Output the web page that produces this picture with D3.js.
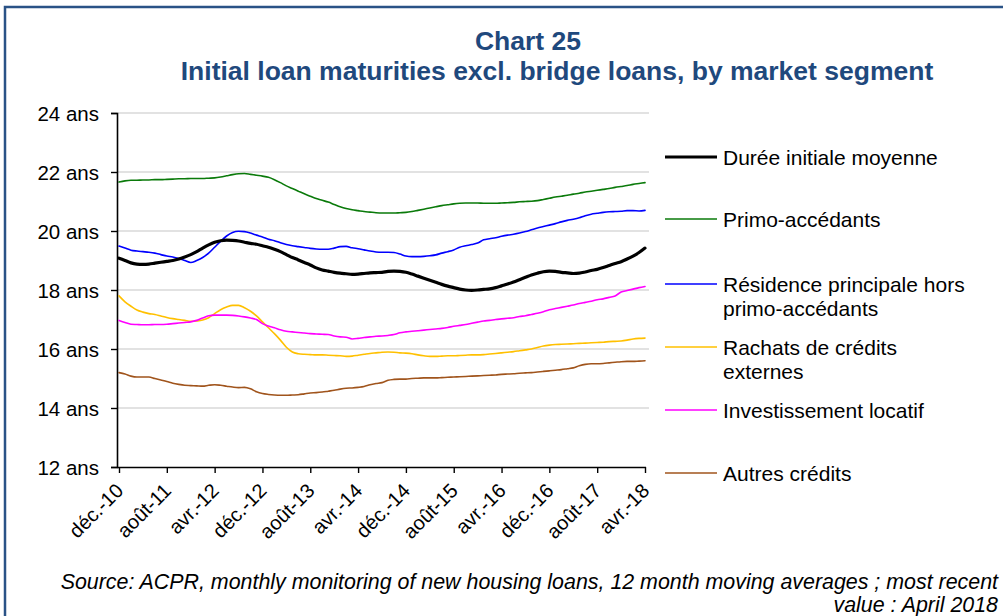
<!DOCTYPE html>
<html>
<head>
<meta charset="utf-8">
<script src="https://cdn.jsdelivr.net/npm/d3@7"></script>
<style>
  html, body { margin: 0; padding: 0; background: #fff; }
  svg { display: block; font-family: Arial, "Liberation Sans", sans-serif; }
</style>
</head>
<body>
<svg id="chart" width="1003" height="616"></svg>
<script>
// Monthly periods, Dec 2010 to Apr 2018 (12-month moving averages, in years)
const monthNames = ["janv.", "févr.", "mars", "avr.", "mai", "juin", "juil.", "août", "sept.", "oct.", "nov.", "déc."];
const startYear = 2010, startMonth = 11, nPeriods = 89;
const periods = d3.range(nPeriods).map(i => {
  const m = (startMonth + i) % 12;
  const y = startYear + Math.floor((startMonth + i) / 12);
  return monthNames[m] + "-" + String(y).slice(2);
});

const tickLabels = ["déc.-10", "août-11", "avr.-12", "déc.-12", "août-13", "avr.-14",
                    "déc.-14", "août-15", "avr.-16", "déc.-16", "août-17", "avr.-18"];
const yTicks = [12, 14, 16, 18, 20, 22, 24];

const dureeMoyenne = [
  19.08, 19.00, 18.92, 18.88, 18.87, 18.88, 18.91, 18.94, 18.97, 19.00, 19.05, 19.12,
  19.20, 19.30, 19.42, 19.53, 19.62, 19.67, 19.69, 19.68, 19.66, 19.62, 19.58, 19.55,
  19.50, 19.45, 19.38, 19.30, 19.20, 19.10, 19.02, 18.93, 18.85, 18.75, 18.68, 18.64,
  18.60, 18.57, 18.55, 18.53, 18.54, 18.56, 18.58, 18.59, 18.60, 18.63, 18.64, 18.63,
  18.60, 18.54, 18.47, 18.40, 18.33, 18.26, 18.19, 18.13, 18.08, 18.03, 18.00, 17.99,
  18.00, 18.02, 18.04, 18.08, 18.14, 18.20, 18.27, 18.35, 18.43, 18.51, 18.57, 18.62,
  18.64, 18.63, 18.60, 18.58, 18.56, 18.57, 18.61, 18.66, 18.70, 18.76, 18.83, 18.90,
  18.96, 19.05, 19.15, 19.27, 19.42
];
const primoAccedants = [
  21.66, 21.70, 21.72, 21.72, 21.73, 21.73, 21.74, 21.74, 21.75, 21.76, 21.77, 21.77,
  21.78, 21.78, 21.78, 21.79, 21.80, 21.83, 21.87, 21.91, 21.94, 21.95, 21.92, 21.89,
  21.86, 21.82, 21.74, 21.64, 21.53, 21.44, 21.35, 21.26, 21.18, 21.10, 21.04, 20.98,
  20.90, 20.82, 20.76, 20.72, 20.69, 20.66, 20.64, 20.62, 20.61, 20.61, 20.61, 20.62,
  20.63, 20.66, 20.70, 20.74, 20.78, 20.82, 20.86, 20.89, 20.92, 20.94, 20.95, 20.95,
  20.95, 20.94, 20.94, 20.94, 20.95, 20.96, 20.97, 20.99, 21.00, 21.01, 21.03, 21.07,
  21.11, 21.15, 21.18, 21.21, 21.25, 21.28, 21.32, 21.35, 21.38, 21.41, 21.44, 21.48,
  21.51, 21.54, 21.58, 21.61, 21.64
];
const residencePrincipale = [
  19.49, 19.42, 19.35, 19.32, 19.30, 19.28, 19.25, 19.20, 19.15, 19.12, 19.07, 19.00,
  18.93, 19.00, 19.10, 19.25, 19.45, 19.65, 19.83, 19.95, 19.99, 19.98, 19.93, 19.86,
  19.80, 19.72, 19.67, 19.60, 19.54, 19.50, 19.47, 19.44, 19.41, 19.39, 19.38, 19.38,
  19.42, 19.47, 19.48, 19.43, 19.40, 19.36, 19.32, 19.29, 19.28, 19.28, 19.27, 19.22,
  19.15, 19.13, 19.13, 19.14, 19.16, 19.19, 19.25, 19.30, 19.36, 19.45, 19.50, 19.54,
  19.59, 19.70, 19.74, 19.77, 19.82, 19.86, 19.89, 19.93, 19.98, 20.04, 20.10, 20.15,
  20.20, 20.25, 20.31, 20.36, 20.40, 20.45, 20.52, 20.57, 20.60, 20.63, 20.65, 20.66,
  20.67, 20.69, 20.69, 20.68, 20.70
];
const rachatsCredits = [
  17.80, 17.60, 17.45, 17.32, 17.25, 17.20, 17.17, 17.12, 17.07, 17.03, 17.00, 16.97,
  16.94, 16.95, 16.98, 17.06, 17.20, 17.33, 17.42, 17.48, 17.48, 17.40, 17.28, 17.12,
  16.92, 16.72, 16.52, 16.30, 16.06, 15.90, 15.84, 15.82, 15.81, 15.80, 15.80, 15.79,
  15.78, 15.77, 15.75, 15.76, 15.79, 15.82, 15.85, 15.87, 15.89, 15.90, 15.89, 15.87,
  15.86, 15.84, 15.80, 15.77, 15.75, 15.75, 15.76, 15.77, 15.77, 15.78, 15.79, 15.80,
  15.80, 15.81, 15.83, 15.85, 15.87, 15.89, 15.91, 15.94, 15.97, 16.00, 16.05, 16.10,
  16.13, 16.15, 16.16, 16.17, 16.18, 16.19, 16.20, 16.21, 16.22, 16.23, 16.25, 16.26,
  16.27, 16.30, 16.34, 16.36, 16.37
];
const investissementLocatif = [
  16.97, 16.90, 16.84, 16.83, 16.82, 16.82, 16.83, 16.83, 16.84, 16.86, 16.88, 16.90,
  16.92, 16.97, 17.05, 17.13, 17.15, 17.15, 17.15, 17.14, 17.12, 17.09, 17.05, 17.00,
  16.86, 16.78, 16.72, 16.65, 16.60, 16.58, 16.56, 16.54, 16.52, 16.51, 16.50, 16.49,
  16.44, 16.41, 16.40, 16.34, 16.36, 16.39, 16.41, 16.43, 16.44, 16.46, 16.49, 16.55,
  16.58, 16.60, 16.62, 16.64, 16.66, 16.68, 16.70, 16.73, 16.77, 16.80, 16.83, 16.87,
  16.91, 16.95, 16.97, 17.00, 17.02, 17.04, 17.06, 17.10, 17.13, 17.17, 17.21, 17.26,
  17.33, 17.37, 17.41, 17.45, 17.49, 17.54, 17.58, 17.62, 17.67, 17.70, 17.75, 17.80,
  17.93, 17.98, 18.03, 18.08, 18.12
];
const autresCredits = [
  15.20, 15.15, 15.08, 15.05, 15.05, 15.05, 15.00, 14.95, 14.90, 14.84, 14.80, 14.77,
  14.76, 14.75, 14.74, 14.77, 14.79, 14.77, 14.74, 14.71, 14.69, 14.70, 14.65, 14.55,
  14.49, 14.46, 14.44, 14.43, 14.43, 14.44, 14.45, 14.48, 14.51, 14.52, 14.54, 14.57,
  14.60, 14.64, 14.67, 14.68, 14.70, 14.73, 14.79, 14.83, 14.86, 14.94, 14.97, 14.98,
  14.98, 15.00, 15.01, 15.02, 15.02, 15.02, 15.03, 15.04, 15.05, 15.06, 15.07, 15.08,
  15.09, 15.10, 15.11, 15.12, 15.14, 15.15, 15.16, 15.18, 15.19, 15.20, 15.22, 15.24,
  15.26, 15.28, 15.30, 15.33, 15.36, 15.43, 15.48, 15.50, 15.50, 15.51, 15.53, 15.55,
  15.57, 15.58, 15.58, 15.59, 15.60
];

const seriesNames = ["Durée initiale moyenne", "Primo-accédants", "Résidence principale hors primo-accédants",
                     "Rachats de crédits externes", "Investissement locatif", "Autres crédits"];
const seriesValues = [dureeMoyenne, primoAccedants, residencePrincipale,
                      rachatsCredits, investissementLocatif, autresCredits];
const seriesColors = ["#000000", "#0a7a0a", "#0000ff", "#ffc000", "#ff00ff", "#a0541c"];
const seriesWidths = [3.2, 1.6, 1.6, 1.6, 1.6, 1.6];
// legend text, wrapped as drawn
const legendLines = [["Durée initiale moyenne"], ["Primo-accédants"], ["Résidence principale hors", "primo-accédants"],
                     ["Rachats de crédits", "externes"], ["Investissement locatif"], ["Autres crédits"]];

const svg = d3.select("#chart");
const titleColor = "#1f497d";

// outer frame
svg.append("path")
  .attr("d", "M5,616 V7 H1003")
  .attr("fill", "none").attr("stroke", "#2a5286").attr("stroke-width", 2.5);

// titles
svg.append("text").attr("x", 528).attr("y", 50)
  .attr("text-anchor", "middle").attr("fill", titleColor)
  .style("font-weight", "bold").style("font-size", "26.5px")
  .text("Chart 25");
svg.append("text").attr("x", 557).attr("y", 80)
  .attr("text-anchor", "middle").attr("fill", titleColor)
  .style("font-weight", "bold").style("font-size", "26.5px")
  .text("Initial loan maturities excl. bridge loans, by market segment");

const plot = { left: 117, right: 645, top: 113, bottom: 467 };

const x = d3.scalePoint().domain(periods).range([plot.left + 2, plot.right]);
const y = d3.scaleLinear().domain([12, 24]).range([plot.bottom, plot.top]);

// gridlines
svg.append("g").selectAll("line").data(yTicks.filter(t => t > 12)).join("line")
  .attr("x1", plot.left).attr("x2", plot.right + 4)
  .attr("y1", d => y(d)).attr("y2", d => y(d))
  .attr("stroke", "#d9d9d9").attr("stroke-width", 1.6);

// y axis
const yAxis = svg.append("g").attr("transform", `translate(${plot.left},0)`)
  .call(d3.axisLeft(y).tickValues(yTicks).tickSize(6).tickPadding(12).tickFormat(d => d + " ans"));
yAxis.select(".domain").attr("stroke-width", 1.6);
yAxis.selectAll(".tick line").attr("stroke-width", 1.4);
yAxis.selectAll("text").style("font-size", "20.5px").style("font-family", "Arial, 'Liberation Sans', sans-serif").attr("fill", "#000").attr("dy", "0.35em");

// x axis
const xAxis = svg.append("g").attr("transform", `translate(0,${plot.bottom})`)
  .call(d3.axisBottom(x).tickValues(tickLabels).tickSize(6).tickSizeOuter(0));
xAxis.select(".domain").attr("d", `M${plot.left},0.5H${plot.right + 1}`).attr("stroke-width", 1.6);
xAxis.selectAll(".tick line").attr("stroke-width", 1.4);
xAxis.selectAll("text")
  .style("font-size", "20px").style("font-family", "Arial, 'Liberation Sans', sans-serif")
  .attr("fill", "#000")
  .attr("text-anchor", "end")
  .attr("x", 0).attr("y", 0).attr("dy", 0)
  .attr("transform", "translate(5,25) rotate(-45)");

// series lines, thick average drawn last
const line = d3.line().x((d, i) => x(periods[i])).y(d => y(d)).curve(d3.curveMonotoneX);
const order = [1, 2, 3, 4, 5, 0];
svg.append("g").selectAll("path").data(order).join("path")
  .attr("d", k => line(seriesValues[k]))
  .attr("fill", "none")
  .attr("stroke", k => seriesColors[k])
  .attr("stroke-width", k => seriesWidths[k])
  .attr("stroke-linejoin", "round").attr("stroke-linecap", "round");

// legend
const legendY = [157, 219, 284, 347, 410, 473];
const legend = svg.append("g");
seriesNames.forEach((name, k) => {
  legend.append("line")
    .attr("x1", 665).attr("x2", 717).attr("y1", legendY[k]).attr("y2", legendY[k])
    .attr("stroke", seriesColors[k]).attr("stroke-width", k === 0 ? 3.2 : 1.6);
  legendLines[k].forEach((t, j) => {
    legend.append("text").attr("x", 723).attr("y", legendY[k] + 7.5 + j * 24)
      .style("font-size", "21px").attr("fill", "#000").text(t);
  });
});

// source note
const src = svg.append("g").style("font-style", "italic").style("font-size", "21.4px");
src.append("text").attr("x", 998).attr("y", 589).attr("text-anchor", "end")
  .text("Source: ACPR, monthly monitoring of new housing loans, 12 month moving averages ; most recent");
src.append("text").attr("x", 998).attr("y", 612).attr("text-anchor", "end")
  .text("value : April 2018");
</script>
</body>
</html>
